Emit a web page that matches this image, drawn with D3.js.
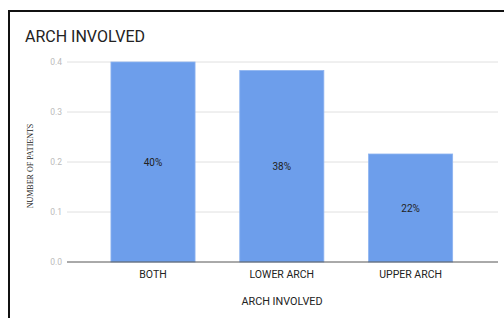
<!DOCTYPE html>
<html><head><meta charset="utf-8">
<script src="https://cdn.jsdelivr.net/npm/d3@7"></script>
<style>body{margin:0;background:#fff}svg{display:block}</style>
</head><body>
<svg id="c" width="504" height="318"></svg>
<script>
const categories = ["BOTH", "LOWER ARCH", "UPPER ARCH"];
const values = [0.40, 0.383, 0.216];
const valueLabels = ["40%", "38%", "22%"];
const yTicks = [0.0, 0.1, 0.2, 0.3, 0.4];

const svg = d3.select("#c");
svg.append("path").attr("d","M9,318 V11 H504").attr("fill","none").attr("stroke","#111").attr("stroke-width",2);

const x = d3.scaleBand().domain(categories).range([88.6, 475]).paddingInner(0.347).paddingOuter(0.1735);
const y = d3.scaleLinear().domain([0, 0.4]).range([262, 62]);
const gx0 = 67, gx1 = 498;

svg.append("text").attr("x",25).attr("y",42).text("ARCH INVOLVED")
  .attr("font-family","Roboto").attr("font-size",16).attr("fill","#222");

svg.append("g").selectAll("line").data(yTicks.filter(d=>d>0)).join("line")
  .attr("x1",gx0).attr("x2",gx1).attr("y1",d=>y(d)).attr("y2",d=>y(d))
  .attr("stroke","#e0e0e0").attr("stroke-width",1);
svg.append("g").selectAll("text").data(yTicks).join("text")
  .attr("x",62).attr("y",d=>y(d)+3).attr("text-anchor","end")
  .attr("font-family","Roboto").attr("font-size",8.5).attr("fill","#bbb")
  .text(d=>d3.format(".1f")(d));

svg.append("g").selectAll("rect").data(values).join("rect")
  .attr("x",(d,i)=>x(categories[i])).attr("width",x.bandwidth())
  .attr("y",d=>y(d)).attr("height",d=>y(0)-y(d))
  .attr("fill","#6d9eeb").attr("stroke","#8db3f0").attr("stroke-width",0.8);

svg.append("g").selectAll("text").data(values).join("text")
  .attr("x",(d,i)=>x(categories[i])+x.bandwidth()/2)
  .attr("y",d=>(y(d)+y(0))/2+3.5).attr("text-anchor","middle")
  .attr("font-family","Roboto").attr("font-size",10).attr("fill","#222")
  .text((d,i)=>valueLabels[i]);

svg.append("line").attr("x1",gx0).attr("x2",gx1).attr("y1",y(0)).attr("y2",y(0))
  .attr("stroke","#555").attr("stroke-width",1);

svg.append("g").selectAll("text").data(categories).join("text")
  .attr("x",d=>x(d)+x.bandwidth()/2).attr("y",277.5).attr("text-anchor","middle")
  .attr("font-family","Roboto").attr("font-size",10.5).attr("fill","#222").text(d=>d);

svg.append("text").attr("x",282).attr("y",305).attr("text-anchor","middle")
  .attr("font-family","Roboto").attr("font-size",10.8).attr("fill","#222").text("ARCH INVOLVED");

svg.append("text").attr("transform","translate(32.5,166) rotate(-90)").attr("text-anchor","middle")
  .attr("font-family","Liberation Serif").attr("font-size",8).attr("fill","#222").text("NUMBER OF PATIENTS");
</script>
</body></html>
